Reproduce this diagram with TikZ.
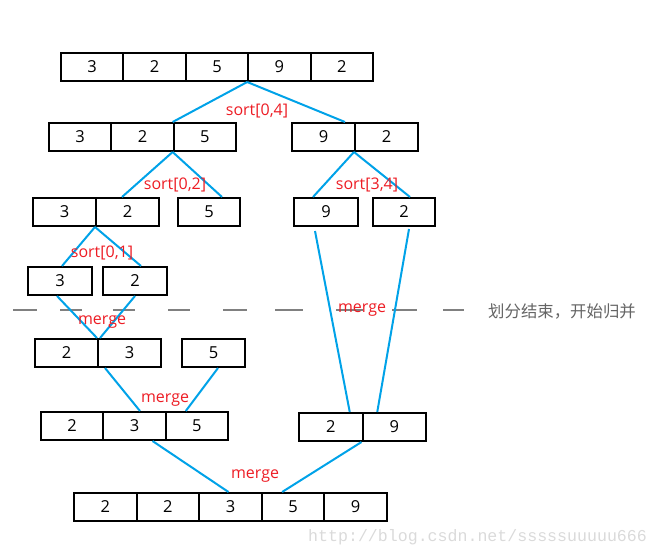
\documentclass[tikz,border=0pt]{standalone}
\usepackage{fontspec}
\setmainfont{Open Sans}
\newfontfamily\cjkfont{Noto Sans CJK SC}
\newfontfamily\wmfont{Liberation Mono}
\definecolor{linkblue}{RGB}{0,162,232}
\definecolor{labred}{RGB}{237,28,36}
\definecolor{divgray}{RGB}{128,128,128}
\definecolor{txtgray}{RGB}{100,100,100}
\definecolor{wmgray}{RGB}{218,218,218}
\begin{document}
\begin{tikzpicture}[x=1pt,y=-1pt,
  cell/.style={draw=black,line width=2pt,fill=white,minimum height=28pt,inner sep=0pt,font=\fontsize{16.5pt}{18pt}\selectfont},
  link/.style={draw=linkblue,line width=2pt},
  lab/.style={text=labred,inner sep=0pt,font=\fontsize{16pt}{18pt}\selectfont},
  divline/.style={draw=divgray,line width=2pt}]
\useasboundingbox (0,0) rectangle (658,558);
% dashed divider
\draw[divline] (13,309.5)--(37,309.5) (60,309.5)--(82,309.5) (113,309.5)--(135,309.5)
  (168,309.5)--(190,309.5) (223,309.5)--(247,309.5) (275,309.5)--(303,309.5)
  (336,309.5)--(363,309.5) (392,309.5)--(417,309.5) (443,309.5)--(464,309.5);
% row 1
\foreach \n/\x/\v in {r1a/92.2/3,r1b/154.6/2,r1c/217/5,r1d/279.4/9,r1e/341.8/2}
  \node[cell,minimum width=62.4pt] (\n) at (\x,67) {\v};
% row 2
\foreach \n/\x/\v in {r2a/80.2/3,r2b/142.5/2,r2c/204.8/5}
  \node[cell,minimum width=62.3pt] (\n) at (\x,137) {\v};
\foreach \n/\x/\v in {r2d/323.5/9,r2e/386.5/2}
  \node[cell,minimum width=63pt] (\n) at (\x,137) {\v};
% row 3
\node[cell,minimum width=63pt] (r3a) at (64.5,212) {3};
\node[cell,minimum width=63pt] (r3b) at (127.5,212) {2};
\node[cell,minimum width=62pt] (r3c) at (209,212) {5};
\node[cell,minimum width=64pt] (r3d) at (326,212) {9};
\node[cell,minimum width=62pt] (r3e) at (404,212) {2};
% row 4
\node[cell,minimum width=64pt] (r4a) at (60,281) {3};
\node[cell,minimum width=64pt] (r4b) at (135,281) {2};
% row 5
\node[cell,minimum width=63pt] (r5a) at (66.5,353) {2};
\node[cell,minimum width=63pt] (r5b) at (129.5,353) {3};
\node[cell,minimum width=63pt] (r5c) at (213.5,353) {5};
% row 6
\foreach \n/\x/\v in {r6a/72.2/2,r6b/134.5/3,r6c/196.8/5}
  \node[cell,minimum width=62.3pt] (\n) at (\x,426) {\v};
\node[cell,minimum width=63.5pt] (r6d) at (330.75,427) {2};
\node[cell,minimum width=63.5pt] (r6e) at (394.25,427) {9};
% row 7
\foreach \n/\x/\v in {r7a/105.3/2,r7b/167.9/2,r7c/230.5/3,r7d/293.1/5,r7e/355.7/9}
  \node[cell,minimum width=62.6pt] (\n) at (\x,507) {\v};
% connectors
\draw[link] (r1d.south west) -- (r2c.north west);
\draw[link] (r1d.south west) -- ([xshift=21.5pt]r2d.north);
\draw[link] (r2c.south west) -- ([xshift=-5.5pt]r3b.north);
\draw[link] (r2c.south west) -- ([xshift=13pt]r3c.north);
\draw[link] (r2e.south west) -- ([xshift=-13pt]r3d.north);
\draw[link] (r2e.south west) -- ([xshift=6pt]r3e.north);
\draw[link] (r3b.south west) -- ([xshift=2pt]r4a.north);
\draw[link] (r3b.south west) -- ([xshift=6pt]r4b.north);
\draw[link] ([xshift=-3pt]r4a.south) -- (r5b.north west);
\draw[link] (r4b.south) -- ([xshift=3pt]r5b.north west);
\draw[link] ([xshift=-11pt,yshift=-4pt]r3d.south) -- ([xshift=19pt]r6d.north);
\draw[link] ([xshift=5pt,yshift=-2pt]r3e.south) -- ([xshift=-17pt]r6e.north);
\draw[link] ([xshift=-24.5pt]r5b.south) -- ([xshift=5.5pt]r6b.north);
\draw[link] ([xshift=4.5pt]r5c.south) -- ([xshift=-11pt]r6c.north);
\draw[link] ([xshift=18pt]r6b.south) -- ([xshift=-2pt]r7c.north);
\draw[link] (r6e.south west) -- ([xshift=-11pt]r7d.north);
% labels
\node[lab] (l1) at (257,111) {sort[0,4]};
\node[lab] (l2) at (175,185) {sort[0,2]};
\node[lab] (l3) at (367,185) {sort[3,4]};
\node[lab] (l4) at (102,253) {sort[0,1]};
\node[lab] (l5) at (102,322) {merge};
\node[lab] (l6) at (362,310) {merge};
\node[lab] (l7) at (165,400) {merge};
\node[lab] (l8) at (255,476) {merge};
\node[text=txtgray,inner sep=0pt,font=\cjkfont\fontsize{16.4pt}{18pt}\selectfont] (note) at (562,311.5) {划分结束，开始归并};
\node[text=wmgray,inner sep=0pt,anchor=west,font=\wmfont\fontsize{16.6pt}{18pt}\selectfont] (wm) at (308,537) {http://blog.csdn.net/sssssuuuuu666};
\end{tikzpicture}
\end{document}
